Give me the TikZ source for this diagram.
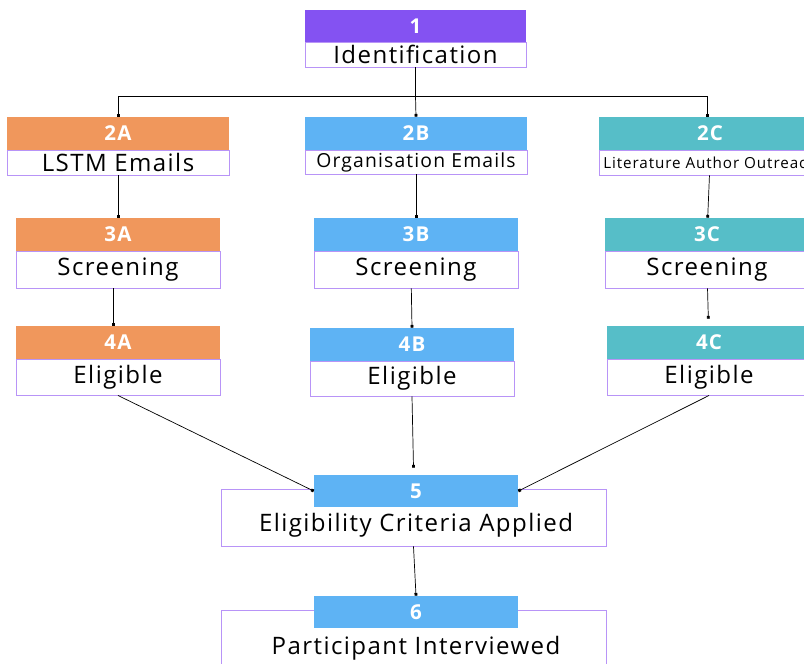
\documentclass[tikz,border=0pt]{standalone}
\usepackage{fontspec}
\setmainfont{Open Sans}[LetterSpace=6]
\usetikzlibrary{arrows.meta}
\definecolor{idpurple}{HTML}{8452F2}
\definecolor{lstmorange}{HTML}{F0975C}
\definecolor{orgblue}{HTML}{5EB3F4}
\definecolor{litteal}{HTML}{56BEC8}
\definecolor{lilac}{HTML}{B894F7}
\begin{document}
\begin{tikzpicture}[x=0.03cm, y=-0.03cm, >={Square[length=2.4pt,width=2.4pt]},
    line width=0.6pt,
    hdr/.style 2 args={fill=#1, text=white, font=\bfseries\fontsize{17.5}{20}\selectfont,
      minimum width=#2*0.03cm, minimum height=33*0.03cm, inner sep=0pt},
    cell/.style 2 args={draw=lilac, fill=white, line width=0.8pt, minimum width=#1*0.03cm,
      minimum height=#2*0.03cm, inner sep=0pt, font=\fontsize{20.5}{24}\selectfont}]
    \useasboundingbox (0,0) rectangle (804,663);
    \clip (0,0) rectangle (804,663);
    % identification
    \node[hdr={idpurple}{221}] (h1) at (415.5,26) {1};
    \node[cell={221}{25}] (b1) at (415.5,54.5) {Identification};
    % sources
    \node[hdr={lstmorange}{222}] (h2a) at (118,133.5) {2A};
    \node[cell={222}{25}] (b2a) at (118,162.5) {LSTM Emails};
    \node[hdr={orgblue}{222}] (h2b) at (416,133.5) {2B};
    \node[cell={222}{24}, font=\fontsize{16.5}{19}\selectfont] (b2b) at (416,162) {Organisation Emails};
    \node[hdr={litteal}{222}] (h2c) at (710,133.5) {2C};
    \node[cell={222}{25}, font=\fontsize{13}{15}\selectfont] (b2c) at (710,162.5) {Literature Author Outreach};
    % screening
    \node[hdr={lstmorange}{204}] (h3a) at (118,234.5) {3A};
    \node[cell={204}{37}] (b3a) at (118,269.5) {Screening};
    \node[hdr={orgblue}{204}] (h3b) at (416,234.5) {3B};
    \node[cell={204}{37}] (b3b) at (416,269.5) {Screening};
    \node[hdr={litteal}{204}] (h3c) at (707,234.5) {3C};
    \node[cell={204}{37}] (b3c) at (707,269.5) {Screening};
    % eligible
    \node[hdr={lstmorange}{204}] (h4a) at (118,342.5) {4A};
    \node[cell={204}{36}] (b4a) at (118,377) {Eligible};
    \node[hdr={orgblue}{204}] (h4b) at (412,344.5) {4B};
    \node[cell={204}{35}] (b4b) at (412,378.5) {Eligible};
    \node[hdr={litteal}{204}] (h4c) at (709,342.5) {4C};
    \node[cell={204}{36}] (b4c) at (709,377) {Eligible};
    % criteria and interview
    \node[cell={385}{57}] (b5) at (413.5,517.5) {};
    \node[font=\fontsize{20.5}{24}\selectfont] (t5) at (416,525) {Eligibility Criteria Applied};
    \node[hdr={orgblue}{204}, minimum height=32*0.03cm] (h5) at (416,491) {5};
    \node[cell={385}{60}] (b6) at (413.5,640) {};
    \node[font=\fontsize{20.5}{24}\selectfont] (t6) at (416,648) {Participant Interviewed};
    \node[hdr={orgblue}{204}, minimum height=32*0.03cm] (h6) at (416,612) {6};
    % connectors
    \coordinate (split) at (415.5,96);
    \draw (b1.south) -- (split);
    \draw[->] (split) -| (h2a.north);
    \draw[->] (split) -- (h2b.north);
    \draw[->] (split) -| ([xshift=-2]h2c.north);
    \draw[->] (b2a) -- (h3a);
    \draw[->] (b2b) -- (h3b);
    \draw[->] (b2c) -- (h3c);
    \draw[->] ([xshift=-4]b3a.south) -- ([xshift=-4]h4a.north);
    \draw[->] ([xshift=-4]b3b.south) -- (h4b.north);
    \draw[->, shorten >=6pt] (b3c) -- (h4c);
    \draw[->] (b4a.south) -- (h5.west);
    \draw[->, shorten >=6pt] (b4b.south) -- ([xshift=-2]h5.north);
    \draw[->] (b4c.south) -- (h5.east);
    \draw[->] (b5.south) -- (h6.north);
\end{tikzpicture}
\end{document}
